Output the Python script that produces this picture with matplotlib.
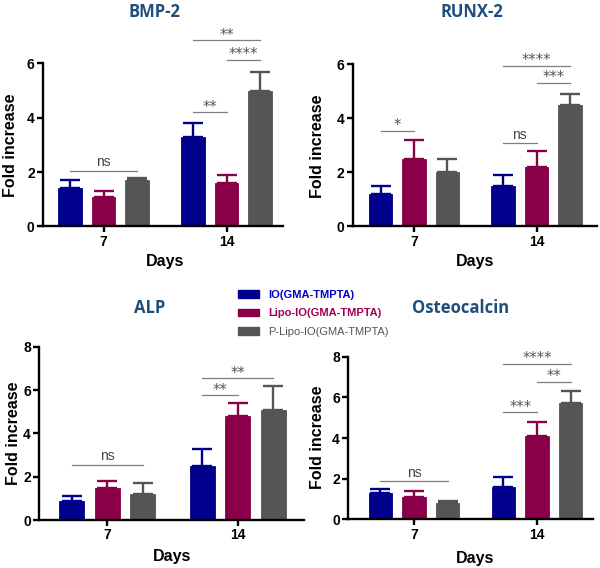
import matplotlib
matplotlib.use("Agg")
import matplotlib.pyplot as plt
from matplotlib.patches import Patch
import numpy as np

plt.rcParams['font.family'] = ['Liberation Sans', 'DejaVu Sans']

# ---------------- data ----------------
days = ["7", "14"]
series = ["IO(GMA-TMPTA)", "Lipo-IO(GMA-TMPTA)", "P-Lipo-IO(GMA-TMPTA)"]

bmp2_mean = [[1.4, 1.1, 1.7], [3.3, 1.6, 5.0]]
bmp2_err = [[0.3, 0.2, 0.1], [0.5, 0.3, 0.7]]
runx2_mean = [[1.2, 2.5, 2.0], [1.5, 2.2, 4.5]]
runx2_err = [[0.3, 0.7, 0.5], [0.4, 0.6, 0.4]]
alp_mean = [[0.9, 1.5, 1.2], [2.5, 4.8, 5.1]]
alp_err = [[0.2, 0.3, 0.5], [0.8, 0.6, 1.1]]
osteo_mean = [[1.3, 1.1, 0.8], [1.6, 4.1, 5.7]]
osteo_err = [[0.2, 0.3, 0.1], [0.5, 0.7, 0.6]]

# significance: (day index, series from, series to, height, label)
bmp2_sig = [(0, 0, 2, 2.06, "ns"), (1, 0, 1, 4.2, "**"), (1, 0, 2, 6.85, "**"), (1, 1, 2, 6.12, "****")]
runx2_sig = [(0, 0, 1, 3.52, "*"), (1, 0, 1, 3.07, "ns"), (1, 0, 2, 5.92, "****"), (1, 1, 2, 5.3, "***")]
alp_sig = [(0, 0, 2, 2.55, "ns"), (1, 0, 1, 5.75, "**"), (1, 0, 2, 6.54, "**")]
osteo_sig = [(0, 0, 2, 1.89, "ns"), (1, 0, 1, 5.26, "***"), (1, 1, 2, 6.75, "**"), (1, 0, 2, 7.64, "****")]

titles = ["BMP-2", "RUNX-2", "ALP", "Osteocalcin"]
ymaxes = [6, 6, 8, 8]

# ---------------- style ----------------
bar_colors = ["#00008c", "#8a0048", "#555555"]
legend_text_colors = ["#0000c8", "#a0004f", "#555555"]
title_color = "#1f4e79"

W, H = 600, 568
fig = plt.figure(figsize=(W / 100, H / 100), dpi=100)

# panel geometry in pixels: (left, right, y_zero, y_top, center7, spacing)
geom = [
    (43, 283, 226.5, 63.5, 103.5, 123.0),
    (352.7, 596.7, 226.5, 64.0, 414.0, 122.5),
    (39.3, 304, 520.0, 346.7, 107.2, 130.6),
    (348.3, 593, 519.3, 356.7, 414.0, 123.0),
]
title_pos = [(154, 12), (472, 12), (150, 308), (461, 308)]
ylabel_pos = [(11, 145), (318, 146), (14, 433), (317, 437)]
xlabel_pos = [(165, 262), (475, 262), (172, 557), (475, 558)]

means = [bmp2_mean, runx2_mean, alp_mean, osteo_mean]
errs = [bmp2_err, runx2_err, alp_err, osteo_err]
sigs = [bmp2_sig, runx2_sig, alp_sig, osteo_sig]

offset = 0.273
width = 0.192

for k in range(4):
    left, right, y0, ytop, c7, sp = geom[k]
    ax = fig.add_axes([left / W, 1 - y0 / H, (right - left) / W, (y0 - ytop) / H])
    ax.set_xlim((left - c7) / sp, (right - c7) / sp)
    ax.set_ylim(0, ymaxes[k])
    m = np.array(means[k])
    e = np.array(errs[k])
    for s in range(3):
        xs = np.arange(2) + (s - 1) * offset
        ax.bar(xs, m[:, s], width=width, color=bar_colors[s], edgecolor=bar_colors[s],
               linewidth=0.6, zorder=2)
        ax.errorbar(xs, m[:, s], yerr=[np.zeros(2), e[:, s]], fmt='none',
                    ecolor=bar_colors[s], elinewidth=1.7, capsize=7, capthick=1.7, zorder=1)
    for (d, a, b, h, lab) in sigs[k]:
        xa = d + (a - 1) * offset
        xb = d + (b - 1) * offset
        ax.plot([xa, xb], [h, h], color="#7f7f7f", lw=0.9, clip_on=False, zorder=3)
        if lab == "ns":
            ax.text((xa + xb) / 2, h + 0.05 * ymaxes[k] / 6, lab, ha='center', va='bottom',
                    fontsize=10, color="#444444", clip_on=False)
        else:
            ax.text((xa + xb) / 2, h - 0.08 * ymaxes[k] / 6, lab, ha='center', va='bottom',
                    fontsize=10.5, color="#555555", clip_on=False, family='DejaVu Sans')
    ax.set_xticks([0, 1])
    ax.set_xticklabels(days)
    ax.set_yticks(np.arange(0, ymaxes[k] + 1, 2))
    for sp_name in ['top', 'right']:
        ax.spines[sp_name].set_visible(False)
    for sp_name in ['left', 'bottom']:
        ax.spines[sp_name].set_linewidth(1.7)
    ax.tick_params(axis='both', width=1.7, length=4.5, labelsize=10, pad=1.5)
    for lbl in ax.get_xticklabels() + ax.get_yticklabels():
        lbl.set_fontweight('bold')
    ax.patch.set_alpha(0)

    tx, ty = title_pos[k]
    fig.text(tx / W, 1 - ty / H, titles[k], ha='center', va='center', fontsize=12,
             fontweight='bold', color=title_color, family=['Open Sans', 'DejaVu Sans'])
    lx, ly = ylabel_pos[k]
    fig.text(lx / W, 1 - ly / H, "Fold increase", ha='center', va='center', rotation=90,
             fontsize=11.5, fontweight='bold')
    dx, dy = xlabel_pos[k]
    fig.text(dx / W, 1 - dy / H, "Days", ha='center', va='center', fontsize=11.5, fontweight='bold')

handles = [Patch(facecolor=c, edgecolor=c) for c in bar_colors]
leg = fig.legend(handles, series, loc='upper left', bbox_to_anchor=(228 / W, 1 - 280 / H),
                 frameon=False, handlelength=1.9, handleheight=0.7, handletextpad=0.8,
                 labelspacing=0.75, fontsize=8)
for t, c, wgt in zip(leg.get_texts(), legend_text_colors, ['bold', 'bold', 'normal']):
    t.set_color(c)
    t.set_fontweight(wgt)

fig.savefig("out.png", dpi=100)
